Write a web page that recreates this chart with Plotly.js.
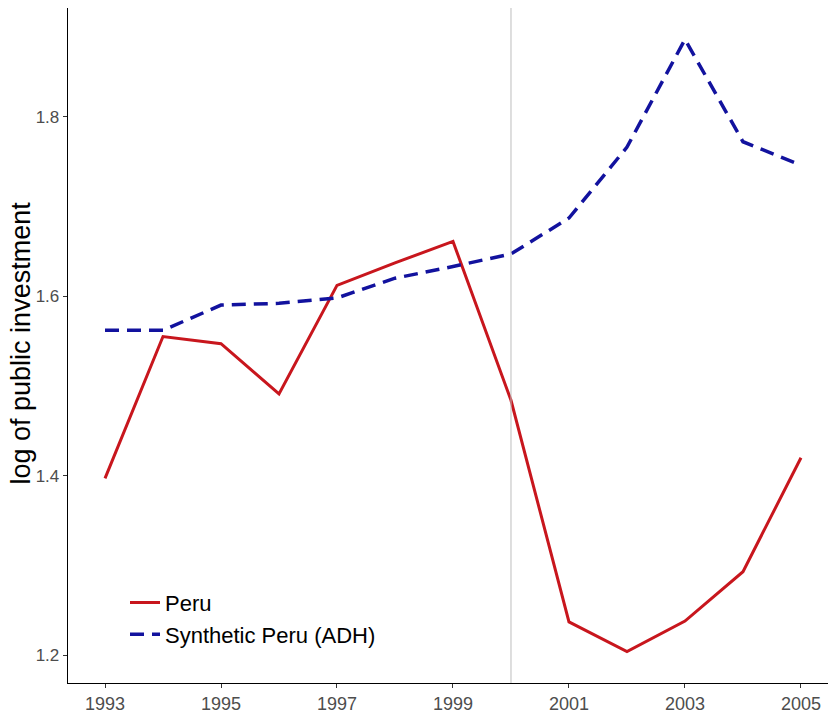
<!DOCTYPE html>
<html>
<head>
<meta charset="utf-8">
<script src="https://cdn.plot.ly/plotly-3.0.1.min.js"></script>
<style>html,body{margin:0;padding:0;background:#fff;}#chart{width:828px;height:714px;}</style>
</head>
<body>
<div id="chart"></div>
<script>
const years = [1993,1994,1995,1996,1997,1998,1999,2000,2001,2002,2003,2004,2005];
const peru = [1.397,1.555,1.547,1.491,1.612,1.637,1.661,1.484,1.237,1.204,1.238,1.293,1.420];
const synthetic = [1.562,1.562,1.590,1.592,1.598,1.620,1.633,1.647,1.687,1.766,1.886,1.772,1.746];
const xTicks = [1993,1995,1997,1999,2001,2003,2005];
const yTicks = [1.2,1.4,1.6,1.8];
const yTickLabels = ["1.2","1.4","1.6","1.8"];
const treatmentYear = 2000;
const yTitle = "log of public investment";

const font = "Liberation Sans, Arial, sans-serif";

const traces = [
  {x: years, y: peru, type: "scatter", mode: "lines", name: "Peru",
   line: {color: "#c8161d", width: 3}},
  {x: years, y: synthetic, type: "scatter", mode: "lines", name: "Synthetic Peru (ADH)",
   line: {color: "#12129e", width: 3.5, dash: "14px,8px"}}
];

const layout = {
  width: 828, height: 714,
  margin: {l: 68, r: 0, t: 8, b: 31},
  paper_bgcolor: "#fff", plot_bgcolor: "#fff",
  font: {family: font},
  showlegend: true,
  legend: {x: 0.075, y: 0.15, xanchor: "left", yanchor: "top",
           bgcolor: "rgba(0,0,0,0)", font: {size: 22, color: "#000", family: font},
           itemwidth: 30, tracegroupgap: 0},
  xaxis: {range: [1992.362, 2005.466], tickvals: xTicks, ticktext: xTicks.map(String),
          showgrid: false, zeroline: false, showline: true, linecolor: "#000", linewidth: 1.3,
          ticks: "outside", ticklen: 4, tickcolor: "#333", tickwidth: 1,
          tickfont: {size: 18, color: "#4d4d4d", family: font}},
  yaxis: {range: [1.169, 1.921], tickvals: yTicks, ticktext: yTickLabels,
          showgrid: false, zeroline: false, showline: true, linecolor: "#000", linewidth: 1.3,
          ticks: "outside", ticklen: 4, tickcolor: "#333", tickwidth: 1,
          tickfont: {size: 17, color: "#4d4d4d", family: font}},
  annotations: [{text: yTitle, xref: "paper", yref: "paper", x: 0, y: 0.503,
                 xanchor: "center", yanchor: "middle", xshift: -47, textangle: -90,
                 showarrow: false, font: {size: 27, color: "#000", family: font}}],
  shapes: [{type: "line", xref: "x", yref: "paper", x0: treatmentYear, x1: treatmentYear, y0: 0, y1: 1,
            line: {color: "#bdbdbd", width: 1}}]
};

Plotly.newPlot("chart", traces, layout, {displayModeBar: false, staticPlot: true});
</script>
</body>
</html>
